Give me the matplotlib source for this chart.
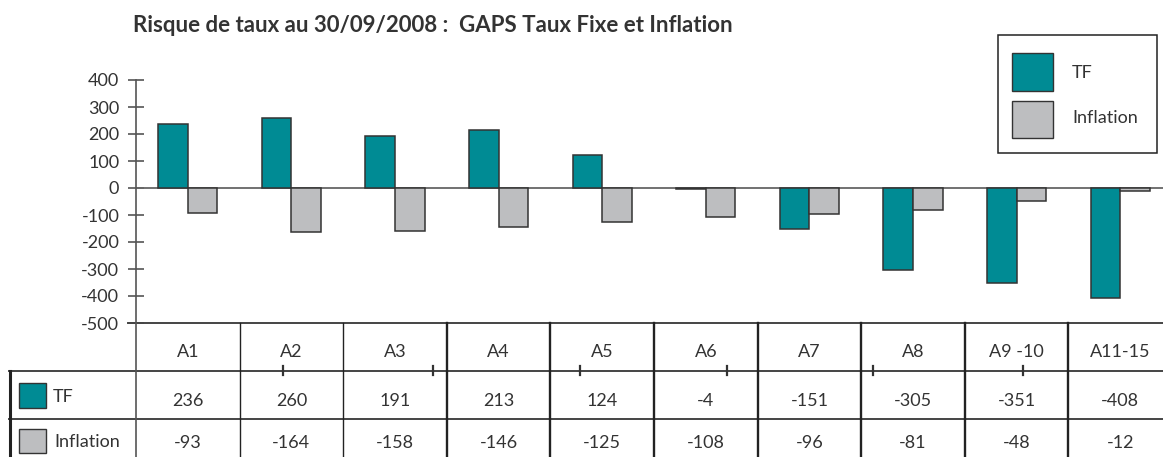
import matplotlib
matplotlib.use("Agg")
import matplotlib.pyplot as plt
from matplotlib.patches import Rectangle
from matplotlib.lines import Line2D
from matplotlib.transforms import blended_transform_factory
import numpy as np

categories = ["A1", "A2", "A3", "A4", "A5", "A6", "A7", "A8", "A9 -10", "A11-15"]
tf_values = [236, 260, 191, 213, 124, -4, -151, -305, -351, -408]
inflation_values = [-93, -164, -158, -146, -125, -108, -96, -81, -48, -12]
series_names = ["TF", "Inflation"]
yticks = [400, 300, 200, 100, 0, -100, -200, -300, -400, -500]
title = "Risque de taux au 30/09/2008 :  GAPS Taux Fixe et Inflation"

W, H = 1163, 457
TEAL = "#008b94"
GRAY = "#bdbec0"
EDGE = "#333333"
TXT = "#333333"
LINE = "#444444"
FS = 13

plt.rcParams['font.family'] = ['Lato', 'DejaVu Sans']

fig = plt.figure(figsize=(W / 100, H / 100), dpi=100)

def fx(px):
    return px / W

def fy(py):
    return 1 - py / H

# Main axes: spine at x=136, y from 80 (400) to 323 (-500)
colw = 103.6
ax_left = 136
ax_right = W
ncols_visible = (ax_right - ax_left) / colw
ax = fig.add_axes([fx(ax_left), fy(323), fx(ax_right) - fx(ax_left), fy(80) - fy(323)])
ax.set_xlim(-0.5, -0.5 + ncols_visible)
ax.set_ylim(-500, 400)

x = np.arange(len(categories))
bw = 0.285
ax.bar(x - bw / 2, tf_values, width=bw, color=TEAL, edgecolor=EDGE, linewidth=1.1, zorder=3)
ax.bar(x + bw / 2, inflation_values, width=bw, color=GRAY, edgecolor=EDGE, linewidth=1.1, zorder=3)
ax.axhline(0, color="#666666", linewidth=1.3, zorder=2)

for s in ["top", "right", "bottom"]:
    ax.spines[s].set_visible(False)
ax.spines["left"].set_color("#555555")
ax.spines["left"].set_linewidth(1.2)
ax.set_xticks([])
ax.set_yticks(yticks)
ax.set_yticklabels([str(v) for v in yticks])
ax.tick_params(axis="y", direction="inout", length=12, width=1.2, color="#555555",
               labelsize=FS, labelcolor=TXT, pad=6)
ax.patch.set_alpha(0)

# Title
fig.text(fx(133), fy(25), title, fontsize=16, fontweight="bold", color=TXT,
         ha="left", va="center")

# Table lines (figure coordinates)
def hline(x0, x1, y, lw=1.2, color=LINE):
    fig.add_artist(Line2D([fx(x0), fx(x1)], [fy(y), fy(y)], color=color, linewidth=lw))

def vline(xp, y0, y1, lw=1.2, color=LINE):
    fig.add_artist(Line2D([fx(xp), fx(xp)], [fy(y0), fy(y1)], color=color, linewidth=lw))

hline(128, W, 323, lw=1.4)
hline(9, W, 371, lw=1.4)
hline(9, W, 419, lw=1.4)
vline(ax_left, 323, H, lw=1.2, color="#555555")
vline(9.5, 371, H, lw=2.2, color="#222222")

# column borders follow the data scale
bt = blended_transform_factory(ax.transData, fig.transFigure)
for i in range(1, len(categories)):
    lw = 1.0 if i < 3 else 1.7
    fig.add_artist(Line2D([i - 0.5, i - 0.5], [fy(323), 0], transform=bt,
                          color="#222222", linewidth=lw))

# small stray tick marks on the header/row line
for xp in [283, 433, 580, 727, 873, 1023]:
    vline(xp, 366, 375, lw=1.6, color="#333333")

# Table text
for i, cat in enumerate(categories):
    fig.text(i, fy(352), cat, transform=bt, ha="center", va="center", fontsize=FS, color=TXT)
    fig.text(i, fy(401), str(tf_values[i]), transform=bt, ha="center", va="center",
             fontsize=FS, color=TXT)
    fig.text(i, fy(443), str(inflation_values[i]), transform=bt, ha="center", va="center",
             fontsize=FS, color=TXT)

# Row headers with swatches
fig.add_artist(Rectangle((fx(19), fy(408)), fx(46) - fx(19), fy(383) - fy(408),
                         transform=fig.transFigure, facecolor=TEAL, edgecolor=EDGE, linewidth=1.0))
fig.add_artist(Rectangle((fx(19), fy(453)), fx(46) - fx(19), fy(429) - fy(453),
                         transform=fig.transFigure, facecolor=GRAY, edgecolor=EDGE, linewidth=1.0))
fig.text(fx(53), fy(397), series_names[0], ha="left", va="center", fontsize=FS, color=TXT)
fig.text(fx(54), fy(442), series_names[1], ha="left", va="center", fontsize=FS, color=TXT)

# Legend box
fig.add_artist(Rectangle((fx(998), fy(153)), fx(1157) - fx(998), fy(35) - fy(153),
                         transform=fig.transFigure, facecolor="white", edgecolor="#222222",
                         linewidth=1.1))
fig.add_artist(Rectangle((fx(1012), fy(91)), fx(1053) - fx(1012), fy(53) - fy(91),
                         transform=fig.transFigure, facecolor=TEAL, edgecolor=EDGE, linewidth=1.0))
fig.add_artist(Rectangle((fx(1012), fy(138)), fx(1053) - fx(1012), fy(101) - fy(138),
                         transform=fig.transFigure, facecolor=GRAY, edgecolor=EDGE, linewidth=1.0))
fig.text(fx(1072), fy(73), series_names[0], ha="left", va="center", fontsize=FS, color=TXT)
fig.text(fx(1072), fy(118), series_names[1], ha="left", va="center", fontsize=FS, color=TXT)

fig.savefig("out.png", dpi=100, facecolor="white")
